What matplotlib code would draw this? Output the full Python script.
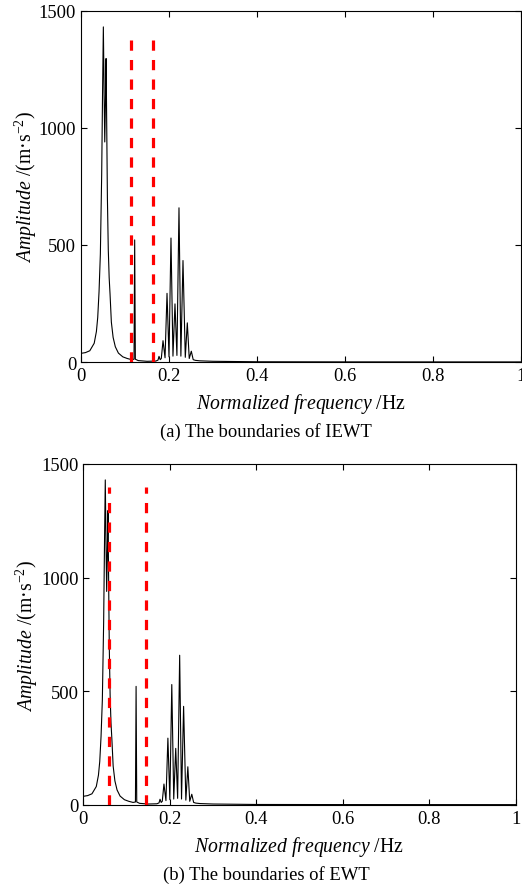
import matplotlib
matplotlib.use("Agg")
import matplotlib.pyplot as plt

plt.rcParams['font.family'] = ['Liberation Serif', 'DejaVu Serif']
plt.rcParams['mathtext.fontset'] = 'custom'
plt.rcParams['mathtext.rm'] = 'Liberation Serif'
plt.rcParams['mathtext.it'] = 'Liberation Serif:italic'
plt.rcParams['mathtext.default'] = 'regular'

# Spectrum (normalized frequency vs amplitude)
freq = [0, 0.01, 0.02, 0.03, 0.035, 0.038, 0.041, 0.044, 0.047, 0.049, 0.0508,
        0.0525, 0.054, 0.0555, 0.057, 0.0585, 0.060, 0.062, 0.064, 0.066, 0.069,
        0.073, 0.078, 0.085, 0.095, 0.105, 0.115, 0.1205, 0.122, 0.1235, 0.13,
        0.15, 0.17, 0.175, 0.1773, 0.18, 0.1825, 0.1864, 0.191, 0.1955, 0.200,
        0.2045, 0.209, 0.2136, 0.218, 0.2227, 0.227, 0.2318, 0.237, 0.2416, 0.246,
        0.2507, 0.255, 0.26, 0.27, 0.3, 0.35, 0.4, 0.6, 1.0]
amp = [37, 40, 48, 80, 130, 190, 300, 460, 800, 1150, 1430,
       1150, 939, 1100, 1295, 1000, 700, 480, 360, 290, 170,
       105, 65, 38, 22, 15, 10, 12, 521, 12, 6,
       3, 4, 8, 24, 10, 15, 91, 18, 293, 22,
       529, 25, 248, 28, 658, 25, 433, 20, 167, 15,
       46, 10, 7, 5, 3, 2, 1, 0.5, 0.3]

boundaries_iewt = [0.113, 0.164]
boundaries_ewt = [0.0587, 0.144]
boundary_height = 1400

xticks = [0, 0.2, 0.4, 0.6, 0.8, 1]
xticklabels = ['0', '0.2', '0.4', '0.6', '0.8', '1']
yticks = [0, 500, 1000, 1500]

W, H = 522, 887
fig = plt.figure(figsize=(W / 100, H / 100), dpi=100)

def px_axes(l, t, r, b):
    return fig.add_axes([l / W, 1 - b / H, (r - l) / W, (b - t) / H])

ax_a = px_axes(81, 11.5, 521, 363)
ax_b = px_axes(83.3, 465, 516, 805.7)

for ax, bnds in ((ax_a, boundaries_iewt), (ax_b, boundaries_ewt)):
    ax.plot(freq, amp, color='black', lw=0.8, zorder=2)
    for b in bnds:
        ax.plot([b, b], [0, boundary_height], color='#ff0000', lw=2.3,
                dashes=(3.2, 2.9), zorder=3)
    ax.set_xlim(0, 1)
    ax.set_ylim(0, 1500)
    ax.set_xticks(xticks)
    ax.set_xticklabels(xticklabels)
    ax.set_yticks(yticks)
    ax.tick_params(direction='in', top=True, right=True, length=4, width=0.8,
                   labelsize=13.3, pad=3.5)
    for s in ax.spines.values():
        s.set_linewidth(0.8)

def fx(px):
    return px / W

def fy(py):
    return 1 - py / H

xlab = r'$\mathit{Normalized\ frequency}$ /Hz'
ylab = r'$\mathit{Amplitude}$ /(m·s$^{-2}$)'

fig.text(fx(301), fy(404), xlab, ha='center', va='center', fontsize=14.2)
fig.text(fx(299), fy(847), xlab, ha='center', va='center', fontsize=14.2)
fig.text(fx(26), fy(187), ylab, ha='center', va='center', rotation=90, fontsize=14.2)
fig.text(fx(27), fy(635.5), ylab, ha='center', va='center', rotation=90, fontsize=14.2)
fig.text(fx(266), fy(432), '(a) The boundaries of IEWT', ha='center', va='center', fontsize=13.4)
fig.text(fx(266), fy(875), '(b) The boundaries of EWT', ha='center', va='center', fontsize=13.4)

fig.savefig('out.png', dpi=100)
